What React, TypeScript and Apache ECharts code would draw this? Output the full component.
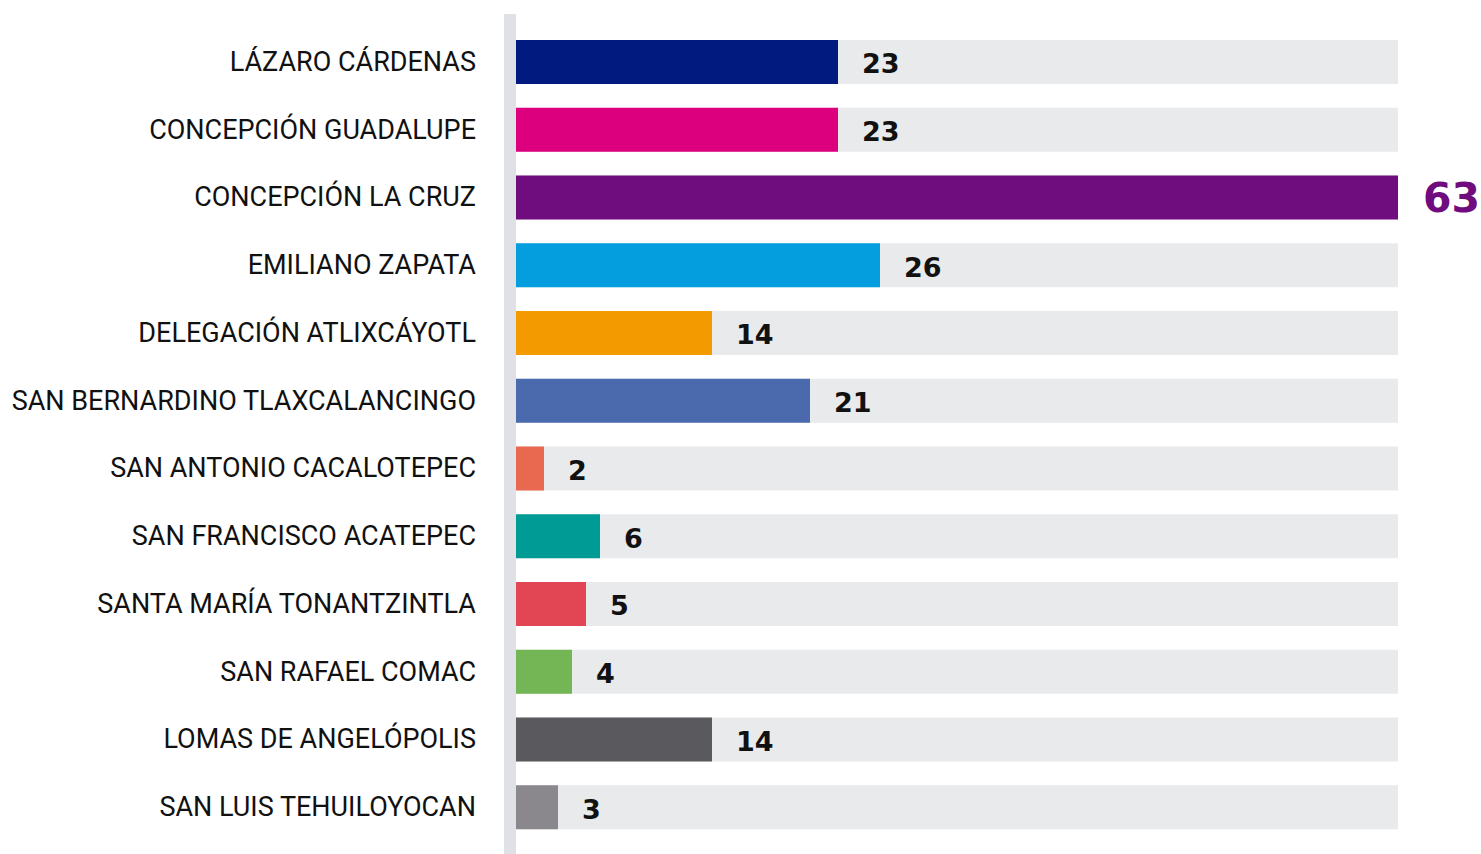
import React, { useEffect, useRef } from "react";
import * as echarts from "echarts";

const categories = [
  "LÁZARO CÁRDENAS",
  "CONCEPCIÓN GUADALUPE",
  "CONCEPCIÓN LA CRUZ",
  "EMILIANO ZAPATA",
  "DELEGACIÓN ATLIXCÁYOTL",
  "SAN BERNARDINO TLAXCALANCINGO",
  "SAN ANTONIO CACALOTEPEC",
  "SAN FRANCISCO ACATEPEC",
  "SANTA MARÍA TONANTZINTLA",
  "SAN RAFAEL COMAC",
  "LOMAS DE ANGELÓPOLIS",
  "SAN LUIS TEHUILOYOCAN",
];
const values = [23, 23, 63, 26, 14, 21, 2, 6, 5, 4, 14, 3];
const colors = [
  "#001a80",
  "#dc007f",
  "#6f0c7e",
  "#049ede",
  "#f29a00",
  "#4a6aad",
  "#e8694f",
  "#009b94",
  "#e24553",
  "#74b655",
  "#5a595e",
  "#8a888c",
];

export default function App() {
  const ref = useRef<HTMLDivElement>(null);
  useEffect(() => {
    if (!ref.current) return;
    const chart = echarts.init(ref.current, undefined, { renderer: "svg" });
    const maxVal = Math.max(...values);
    chart.setOption({
      animation: false,
      grid: { left: 516, right: 83, top: 28, bottom: 13, containLabel: false },
      xAxis: {
        type: "value",
        min: 0,
        max: maxVal,
        show: false,
      },
      yAxis: {
        type: "category",
        data: categories,
        inverse: true,
        axisLine: { show: false },
        axisTick: { show: false },
        axisLabel: {
          margin: 40,
          color: "#111111",
          fontFamily: "Roboto",
          fontSize: 27,
          offset: [0, -2],
        },
      },
      graphic: [
        {
          type: "rect",
          shape: { x: 504, y: 14, width: 12, height: 840 },
          style: { fill: "#e0e1e6" },
          z: 10,
        },
      ],
      series: [
        {
          type: "bar",
          barWidth: 44,
          showBackground: true,
          backgroundStyle: { color: "#e9eaec" },
          data: values.map((v, i) => ({
            value: v,
            itemStyle: { color: colors[i] },
            label:
              v === maxVal
                ? { fontSize: 41, color: "#6f0c7e", distance: 25, offset: [0, 1] }
                : {},
          })),
          label: {
            show: true,
            position: "right",
            distance: 24,
            fontFamily: "DejaVu Sans",
            fontWeight: "bold",
            fontSize: 27,
            color: "#111111",
            offset: [0, 2],
          },
        },
      ],
    });
    return () => chart.dispose();
  }, []);
  return (
    <div
      ref={ref}
      style={{ position: "fixed", left: 0, top: 0, width: 1481, height: 854, background: "#fff" }}
    />
  );
}
